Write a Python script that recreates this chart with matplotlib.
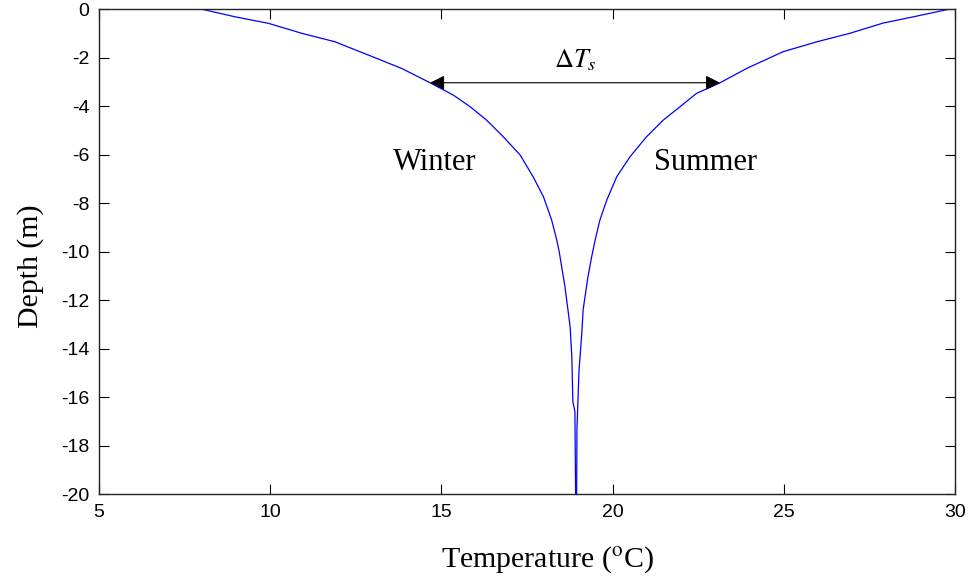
import numpy as np
import matplotlib
matplotlib.use('Agg')
import matplotlib.pyplot as plt

# Данные (глубина, м; температура, °C)
depth_w = [0.0, -0.32, -0.59, -1.0, -1.35, -1.90, -2.45, -3.04, -3.55, -4.03,
           -4.58, -5.27, -6.02, -6.92, -7.74, -8.70, -9.53, -10.0, -11.46, -13.1,
           -14.35, -16.2, -16.6, -20.0]
temp_w = [7.98, 8.97, 9.95, 10.92, 11.89, 12.87, 13.84, 14.67, 15.35, 15.84,
          16.32, 16.81, 17.30, 17.68, 17.98, 18.22, 18.37, 18.44, 18.61, 18.76,
          18.81, 18.84, 18.9, 18.92]

depth_s = [0.0, -0.29, -0.58, -1.0, -1.35, -1.76, -2.44, -3.04, -3.48, -4.03, -4.58,
           -5.27, -6.09, -6.92, -7.88, -8.70, -9.53, -10.21, -11.05, -12.4, -13.4,
           -14.9, -17.3, -20.0]
temp_s = [29.85, 28.89, 27.9, 26.93, 25.97, 24.98, 23.93, 23.14, 22.45, 21.97, 21.48,
          20.99, 20.51, 20.12, 19.83, 19.63, 19.49, 19.39, 19.28, 19.14, 19.1,
          19.02, 18.96, 18.95]

arrow_y = -3.04
arrow_x = (14.67, 23.14)

plt.rcParams['mathtext.fontset'] = 'stix'
plt.rcParams['axes.unicode_minus'] = False
serif = 'Liberation Serif'
sans = 'Liberation Sans'

fig = plt.figure(figsize=(9.73, 5.78), dpi=100)
ax = fig.add_axes([0.1017, 0.1453, 0.8798, 0.8391])

ax.plot(temp_w, depth_w, color='#0000ff', lw=0.9)
ax.plot(temp_s, depth_s, color='#0000ff', lw=0.9)

ax.annotate('', xy=(arrow_x[0], arrow_y), xytext=(arrow_x[1], arrow_y),
            arrowprops=dict(arrowstyle='<|-|>', color='k', lw=0.8,
                            mutation_scale=22, shrinkA=0, shrinkB=0))
ax.text(18.9, -2.39, r'$\Delta T_s$', fontsize=19, ha='center', va='baseline')
ax.text(14.81, -6.64, 'Winter', family=serif, fontsize=22, ha='center', va='baseline')
ax.text(22.7, -6.64, 'Summer', family=serif, fontsize=22, ha='center', va='baseline')

ax.set_xlim(5, 30)
ax.set_ylim(-20, 0)
ax.set_xticks(np.arange(5, 31, 5))
ax.set_yticks(np.arange(-20, 1, 2))
ax.tick_params(direction='in', length=7, width=0.8, top=True, right=True,
               labelsize=14, pad=7)
for lbl in ax.get_xticklabels() + ax.get_yticklabels():
    lbl.set_family(sans)
for sp in ax.spines.values():
    sp.set_linewidth(1.0)
    sp.set_color('#222222')

ax.set_xlabel(r'Temperature ($^{\mathrm{o}}$C)', family=serif, fontsize=21.5)
ax.set_ylabel('Depth (m)', family=serif, fontsize=21.5)
ax.xaxis.set_label_coords(0.524, -0.103)
ax.yaxis.set_label_coords(-0.064, 0.47)

fig.savefig('out.png', dpi=100)
